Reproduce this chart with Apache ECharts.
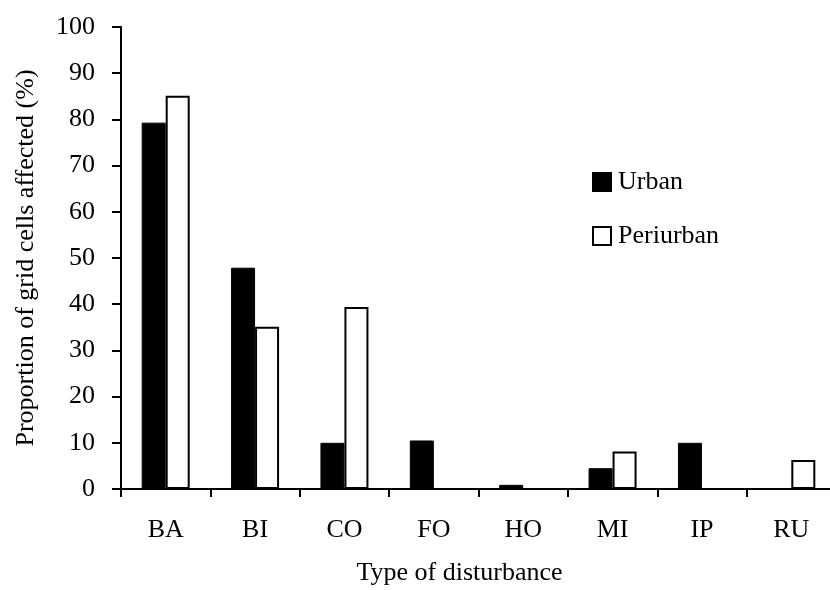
<!DOCTYPE html>
<html>
<head>
<meta charset="utf-8">
<script src="https://cdn.jsdelivr.net/npm/echarts@6/dist/echarts.min.js"></script>
<style>html,body{margin:0;padding:0;background:#fff}#c{width:830px;height:590px}</style>
</head>
<body>
<div id="c"></div>
<script>
const categories = ['BA', 'BI', 'CO', 'FO', 'HO', 'MI', 'IP', 'RU'];
const urban = [79.3, 47.9, 10.0, 10.5, 0.9, 4.5, 10.0, 0];
const periurban = [85.1, 35.1, 39.4, 0, 0, 8.1, 0, 6.3];
const yTicks = [0, 10, 20, 30, 40, 50, 60, 70, 80, 90, 100];

const FONT = '"Liberation Serif", "DejaVu Serif", serif';
const chart = echarts.init(document.getElementById('c'), null, {renderer: 'canvas'});
chart.setOption({
  animation: false,
  backgroundColor: '#fff',
  textStyle: {fontFamily: FONT, color: '#000'},
  grid: {left: 121, right: -6, top: 27, bottom: 101, containLabel: false, outerBoundsMode: 'none'},
  legend: {
    orient: 'vertical',
    left: 592,
    top: 169,
    padding: 0,
    itemWidth: 18,
    itemHeight: 18,
    itemGap: 28,
    textStyle: {fontFamily: FONT, fontSize: 26, lineHeight: 18, color: '#000', padding: [0, 0, 0, 2]},
    data: [
      {name: 'Urban', icon: 'rect', itemStyle: {color: '#000', borderColor: '#000', borderWidth: 2}},
      {name: 'Periurban', icon: 'rect', itemStyle: {color: '#fff', borderColor: '#000', borderWidth: 2}}
    ]
  },
  xAxis: {
    type: 'category',
    data: categories,
    name: 'Type of disturbance',
    nameLocation: 'middle',
    nameGap: 71,
    nameTextStyle: {fontFamily: FONT, fontSize: 26, color: '#000', padding: [0, 38, 0, 0]},
    axisLine: {lineStyle: {color: '#000', width: 2}},
    axisTick: {show: true, length: 8, lineStyle: {color: '#000', width: 2}, alignWithLabel: false},
    axisLabel: {fontFamily: FONT, fontSize: 26, color: '#000', margin: 28}
  },
  yAxis: {
    type: 'value',
    min: 0,
    max: 100,
    interval: 10,
    name: 'Proportion of grid cells affected (%)',
    nameLocation: 'middle',
    nameGap: 82,
    nameTextStyle: {fontFamily: FONT, fontSize: 26, color: '#000'},
    axisLine: {show: true, lineStyle: {color: '#000', width: 2}},
    axisTick: {show: true, length: 9, lineStyle: {color: '#000', width: 2}},
    splitLine: {show: false},
    axisLabel: {
      fontFamily: FONT, fontSize: 26, color: '#000', margin: 26,
      formatter: v => yTicks.includes(v) ? String(v) : ''
    }
  },
  series: [
    {
      name: 'Urban', type: 'bar', data: urban,
      barWidth: 24, barGap: '0%',
      itemStyle: {color: '#000', borderColor: '#000', borderWidth: 1}
    },
    {
      name: 'Periurban', type: 'bar', data: periurban,
      barWidth: 24,
      itemStyle: {color: '#fff', borderColor: '#000', borderWidth: 2}
    }
  ]
});
</script>
</body>
</html>
